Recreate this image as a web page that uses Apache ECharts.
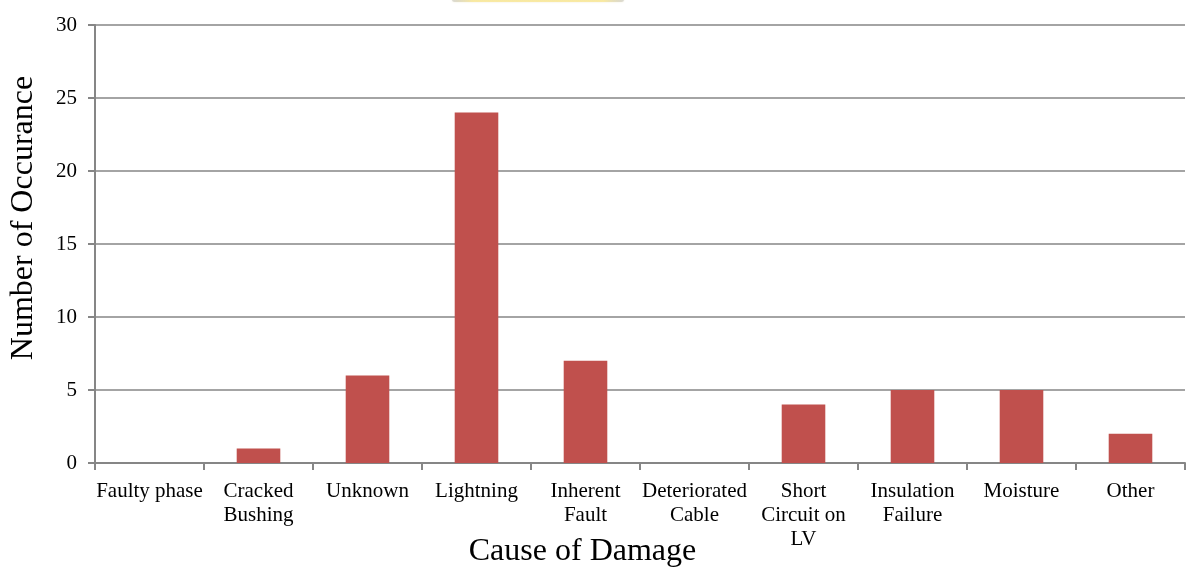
<!DOCTYPE html>
<html>
<head>
<meta charset="utf-8">
<script src="https://cdn.jsdelivr.net/npm/echarts@6/dist/echarts.min.js"></script>
<style>
  html, body { margin: 0; padding: 0; background: #fff; overflow: hidden; }
  #chart { width: 1186px; height: 568px; }
</style>
</head>
<body>
<div id="chart"></div>
<script>
// Causes of transformer damage and how often each occurred
const causes = [
  'Faulty phase', 'Cracked\nBushing', 'Unknown', 'Lightning', 'Inherent\nFault',
  'Deteriorated\nCable', 'Short\nCircuit on\nLV', 'Insulation\nFailure', 'Moisture', 'Other'
];
const occurrences = [0, 1, 6, 24, 7, 0, 4, 5, 5, 2];
const yTicks = { min: 0, max: 30, interval: 5 };

const axisGray = '#868686';
const serif = '"Liberation Serif", "DejaVu Serif", serif';

const chart = echarts.init(document.getElementById('chart'), null, { renderer: 'canvas' });
chart.setOption({
  animation: false,
  backgroundColor: '#ffffff',
  grid: { left: 95, right: 1, top: 25, bottom: 105, containLabel: false, outerBoundsMode: 'none' },
  // faint yellow strip along the top edge
  graphic: [{
    type: 'rect',
    shape: { x: 452, y: -3, width: 172, height: 5, r: 3 },
    style: {
      fill: new echarts.graphic.LinearGradient(0, 0, 1, 0, [
        { offset: 0, color: 'rgba(200,200,200,0.6)' },
        { offset: 0.12, color: 'rgba(250,232,150,0.8)' },
        { offset: 0.88, color: 'rgba(250,232,150,0.8)' },
        { offset: 1, color: 'rgba(200,200,200,0.6)' }
      ]),
      shadowBlur: 2,
      shadowColor: 'rgba(220,210,150,0.6)'
    },
    silent: true
  }],
  xAxis: {
    type: 'category',
    data: causes,
    name: 'Cause of Damage',
    nameLocation: 'middle',
    nameGap: 73,
    nameMoveOverlap: false,
    nameTextStyle: { fontFamily: serif, fontSize: 32, color: '#000', padding: [0, 115, 0, 0] },
    axisLine: { show: true, lineStyle: { color: axisGray, width: 2 } },
    axisTick: { show: true, length: 7, lineStyle: { color: axisGray, width: 2 } },
    axisLabel: {
      interval: 0, margin: 16, fontFamily: serif, fontSize: 21, color: '#000', lineHeight: 24
    },
    splitLine: { show: false }
  },
  yAxis: {
    type: 'value',
    min: yTicks.min, max: yTicks.max, interval: yTicks.interval,
    name: 'Number of Occurance',
    nameLocation: 'middle',
    nameGap: 55,
    nameMoveOverlap: false,
    nameRotate: 90,
    nameTextStyle: { fontFamily: serif, fontSize: 32, color: '#000', padding: [0, 0, 0, 52] },
    axisLine: { show: true, lineStyle: { color: axisGray, width: 2 } },
    axisTick: { show: true, length: 7, lineStyle: { color: axisGray, width: 2 } },
    axisLabel: { margin: 18, fontFamily: serif, fontSize: 21, color: '#000' },
    splitLine: { show: true, lineStyle: { color: axisGray, width: 1.5 } }
  },
  series: [{
    type: 'bar',
    data: occurrences,
    barWidth: '40%',
    itemStyle: { color: '#C0504D' }
  }]
});
</script>
</body>
</html>
